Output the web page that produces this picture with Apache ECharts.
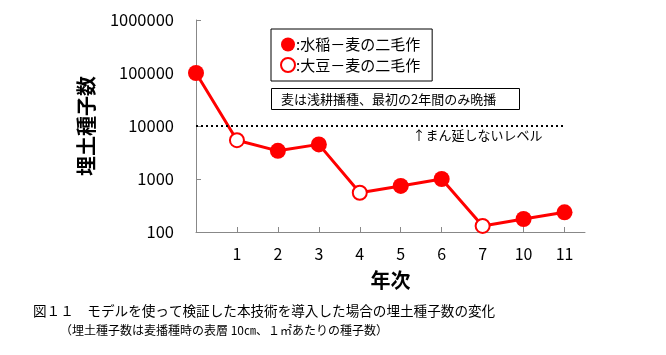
<!DOCTYPE html>
<html>
<head>
<meta charset="utf-8">
<script src="https://cdn.jsdelivr.net/npm/echarts@6/dist/echarts.min.js"></script>
<style>
html,body{margin:0;padding:0;background:#fff;}
#c{width:666px;height:355px;}
</style>
</head>
<body>
<div id="c"></div>
<script>
// x positions (index) and their year labels
var yearLabels = ['', '1', '2', '3', '4', '5', '6', '7', '10', '11'];
// buried seed numbers per year
var seedCounts = [100000, 5400, 3400, 4500, 550, 740, 1000, 130, 176, 235];
// cropping type per point: 'rice' = 水稲－麦 (filled), 'soy' = 大豆－麦 (open)
var cropType = ['rice', 'soy', 'rice', 'rice', 'soy', 'rice', 'rice', 'soy', 'rice', 'rice'];
var yTickLabels = ['100', '1000', '10000', '100000', '1000000'];
var threshold = 10000;
var riceName = ':水稲－麦の二毛作';
var soyName = ':大豆－麦の二毛作';

var FONT = '"Noto Sans CJK JP", sans-serif';
var RED = '#ff0000';

var allPts = seedCounts.map(function (v, i) { return [i, v]; });
var ricePts = allPts.filter(function (p, i) { return cropType[i] === 'rice'; });
var soyPts = allPts.filter(function (p, i) { return cropType[i] === 'soy'; });
var tickIdx = yearLabels.map(function (l, i) { return i; }).filter(function (i) { return yearLabels[i] !== ''; });

var chart = echarts.init(document.getElementById('c'), null, {renderer: 'canvas'});
chart.setOption({
  animation: false,
  backgroundColor: '#fff',
  textStyle: {fontFamily: FONT},
  title: [
    {
      text: '図１１　モデルを使って検証した本技術を導入した場合の埋土種子数の変化',
      left: 33, top: 304, padding: 0,
      textStyle: {fontFamily: FONT, fontSize: 13.6, fontWeight: 'normal', color: '#000'}
    },
    {
      text: '（埋土種子数は麦播種時の表層 10㎝、１㎡あたりの種子数）',
      left: 60, top: 324, padding: 0,
      textStyle: {fontFamily: FONT, fontSize: 12, fontWeight: 'normal', color: '#000'}
    },
    {
      text: '麦は浅耕播種、最初の2年間のみ晩播',
      left: 271, top: 88, padding: [4, 24, 3, 10],
      borderColor: '#000', borderWidth: 1,
      textStyle: {fontFamily: FONT, fontSize: 13, fontWeight: 'normal', color: '#000', lineHeight: 15}
    }
  ],
  legend: {
    left: 271, top: 29, orient: 'vertical',
    borderColor: '#000', borderWidth: 1,
    padding: [8, 12, 8, 9],
    itemWidth: 14, itemHeight: 14, itemGap: 5,
    data: [riceName, soyName],
    textStyle: {fontFamily: FONT, fontSize: 15, color: '#000', padding: [0, 0, 0, -4]}
  },
  grid: {left: 196, top: 20, right: 81, bottom: 123, containLabel: false},
  xAxis: {
    type: 'value', min: 0, max: 9.5, interval: 1,
    name: '年次', nameLocation: 'middle', nameGap: 38,
    nameTextStyle: {fontFamily: FONT, fontSize: 20, fontWeight: 'bold', color: '#000'},
    axisLine: {show: true, lineStyle: {color: '#888', width: 1}},
    axisTick: {show: true, inside: true, length: 5, customValues: tickIdx, lineStyle: {color: '#888'}},
    axisLabel: {
      customValues: tickIdx, margin: 14,
      fontFamily: FONT, fontSize: 16, color: '#000',
      formatter: function (v) { return yearLabels[Math.round(v)] || ''; }
    },
    splitLine: {show: false}
  },
  yAxis: {
    type: 'log', logBase: 10, min: 100, max: 1000000,
    name: '埋土種子数', nameLocation: 'middle', nameGap: 100, nameRotate: 90,
    nameTextStyle: {fontFamily: FONT, fontSize: 20, fontWeight: 'bold', color: '#000'},
    axisLine: {show: true, lineStyle: {color: '#888', width: 1}},
    axisTick: {show: true, inside: true, length: 5, lineStyle: {color: '#888'}},
    axisLabel: {
      margin: 22, fontFamily: FONT, fontSize: 16.5, color: '#000',
      formatter: function (v) {
        var e = Math.round(Math.log(v) / Math.LN10) - 2;
        return yTickLabels[e] !== undefined ? yTickLabels[e] : '';
      }
    },
    splitLine: {show: false}
  },
  series: [
    {
      name: 'all', type: 'line', data: allPts, showSymbol: false, symbol: 'none',
      lineStyle: {color: RED, width: 3}, z: 2, silent: true,
      markLine: {
        silent: true, symbol: ['none', 'none'],
        lineStyle: {color: '#000', type: [2, 3], width: 2},
        label: {
          show: true, position: 'insideEndBottom', distance: [22, 3],
          formatter: '↑まん延しないレベル',
          fontFamily: FONT, fontSize: 13, color: '#000'
        },
        data: [[{coord: [0, threshold]}, {coord: [9, threshold]}]]
      }
    },
    {
      name: riceName, type: 'scatter', data: ricePts, symbol: 'circle', symbolSize: 16,
      itemStyle: {color: RED, opacity: 1}, emphasis: {disabled: true}, z: 3
    },
    {
      name: soyName, type: 'scatter', data: soyPts, symbol: 'circle', symbolSize: 14,
      itemStyle: {color: '#fff', borderColor: RED, borderWidth: 2, opacity: 1}, emphasis: {disabled: true}, z: 3
    }
  ]
});
</script>
</body>
</html>
